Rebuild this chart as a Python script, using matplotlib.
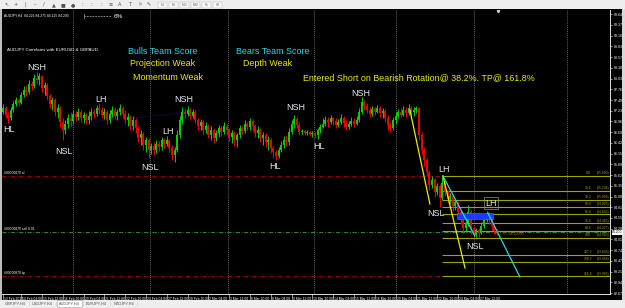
import matplotlib

matplotlib.use("Agg")
import matplotlib.pyplot as plt
import matplotlib.transforms as mtransforms
import numpy as np
from matplotlib.patches import Rectangle

plt.rcParams["font.family"] = ["Liberation Sans", "DejaVu Sans"]

W, H = 625, 308

# ---- AUDJPY H4 candles (index = bar number, prices in JPY) ----
first_open = 87.2
closes = [
    87.3, 87.125, 87.05, 87.25, 87.4,
    87.5, 87.425, 87.625, 87.75, 87.7, 87.9, 87.85, 88.05, 88.0,
    88.1, 87.8, 87.875, 87.6, 87.4, 87.5, 87.2, 87.3, 86.95, 86.75,
    86.9, 87.05, 86.975, 87.15, 87.075, 87.2, 87.05, 87.125, 87.0, 87.1, 87.2, 87.15, 87.3, 87.25,
    87.125, 87.2, 87.0, 87.15, 87.25, 87.1, 87.2, 87.3, 87.15, 87.0, 87.075, 86.85, 87.0, 86.8,
    86.55, 86.65, 86.375, 86.5, 86.25,
    86.35, 86.25, 86.4, 86.325, 86.5, 86.4, 86.5,
    86.3, 86.125, 86.25, 86.625, 87.0, 87.2, 87.15,
    87.25, 87.1, 87.2, 87.0, 86.85, 86.95, 86.75, 86.85, 86.625, 86.75,
    86.55, 86.675, 86.8, 86.7, 86.85, 86.75, 86.575, 86.675, 86.5, 86.625,
    86.8, 86.725, 86.9, 86.825, 86.975, 86.85, 86.675, 86.75, 86.55, 86.625,
    86.45, 86.5, 86.3,
    86.2, 86.1, 86.25, 86.375, 86.5, 86.45, 86.7, 86.9, 87.025, 86.875, 86.7, 86.725, 86.675,
    86.7, 86.65, 86.675, 86.625, 86.75, 86.825,
    86.9, 87.0, 86.95, 87.05, 86.975, 86.875, 86.95, 87.05, 86.925, 86.825, 86.9, 86.975, 86.9,
    87.0, 87.2, 87.45, 87.35,
    87.25, 87.15, 87.275, 87.2, 87.3, 87.175, 87.225, 87.05, 86.875, 86.8, 87.0, 87.1, 87.2,
    87.125, 87.25, 87.175, 87.3, 87.2,
    87.25, 87.3, 86.625, 86.25, 86.0, 85.7, 85.375, 85.5, 85.2, 85.35, 85.05, 85.425, 85.2,
    85.025, 85.1, 84.85, 84.95, 84.7, 84.5, 84.3, 84.4, 84.7, 84.3, 84.125, 84.25, 84.175,
    84.35, 84.5, 84.65, 84.5, 84.35, 84.225, 84.2,
]
highs = [
    87.4, 87.35, 87.2, 87.325, 87.475,
    87.575, 87.55, 87.7, 87.85, 87.875, 88.0, 87.975, 88.15, 88.2,
    88.175, 88.125, 87.95, 87.925, 87.65, 87.575, 87.55, 87.4, 87.35, 87.05,
    87.0, 87.15, 87.2, 87.25, 87.225, 87.3, 87.25, 87.2, 87.175, 87.225, 87.3, 87.275, 87.375, 87.425,
    87.325, 87.3, 87.25, 87.25, 87.35, 87.325, 87.275, 87.4, 87.35, 87.25, 87.175, 87.125, 87.1,
    87.05, 86.85, 86.75, 86.7, 86.575, 86.55,
    86.425, 86.45, 86.5, 86.475, 86.575, 86.55, 86.6,
    86.525, 86.375, 86.325, 86.75, 87.1, 87.325, 87.3,
    87.35, 87.3, 87.275, 87.25, 87.05, 87.025, 87.0, 86.95, 86.9, 86.85,
    86.8, 86.75, 86.875, 86.85, 86.95, 86.9, 86.8, 86.75, 86.725, 86.675,
    86.875, 86.85, 87.0, 86.95, 87.05, 87.025, 86.9, 86.85, 86.8, 86.7,
    86.675, 86.6, 86.55,
    86.35, 86.25, 86.325, 86.475, 86.6, 86.625, 86.8, 87.0, 87.125, 87.075, 86.95, 86.775, 86.75,
    86.75, 86.725, 86.725, 86.7, 86.8, 86.9,
    87.05, 87.1, 87.075, 87.125, 87.075, 87.05, 87.025, 87.15, 87.1, 87.0, 86.975, 87.075, 87.05,
    87.1, 87.3, 87.575, 87.5,
    87.425, 87.325, 87.35, 87.325, 87.375, 87.35, 87.3, 87.275, 87.125, 86.95, 87.075, 87.2, 87.275,
    87.3, 87.35, 87.325, 87.4, 87.35,
    87.325, 87.35, 87.325, 86.7, 86.325, 86.05, 85.75, 85.6, 85.55, 85.425, 85.4, 85.6, 85.45,
    85.25, 85.175, 85.125, 85.025, 84.975, 84.75, 84.55, 84.475, 84.875, 84.75, 84.35, 84.3, 84.3,
    84.45, 84.6, 84.725, 84.7, 84.55, 84.4, 84.275,
]
lows = [
    87.15, 87.05, 86.925, 87.0, 87.2,
    87.35, 87.35, 87.4, 87.575, 87.6, 87.65, 87.75, 87.8, 87.9,
    87.875, 87.7, 87.625, 87.5, 87.3, 87.25, 87.1, 87.05, 86.825, 86.5,
    86.65, 86.8, 86.85, 86.9, 86.975, 87.0, 86.95, 86.925, 86.9, 86.9, 87.0, 87.05, 87.1, 87.15,
    87.05, 87.025, 86.9, 86.925, 87.075, 87.025, 87.0, 87.125, 87.05, 86.9, 86.85, 86.75, 86.75,
    86.675, 86.45, 86.375, 86.25, 86.2, 86.05,
    86.15, 86.125, 86.175, 86.225, 86.25, 86.3, 86.35,
    86.2, 86.0, 85.95, 86.2, 86.55, 86.9, 87.05,
    87.1, 87.0, 87.05, 86.925, 86.75, 86.75, 86.65, 86.675, 86.55, 86.5,
    86.425, 86.475, 86.575, 86.6, 86.65, 86.625, 86.475, 86.425, 86.35, 86.325,
    86.55, 86.65, 86.675, 86.75, 86.75, 86.725, 86.575, 86.55, 86.45, 86.375,
    86.325, 86.25, 86.175,
    86.05, 86.0, 86.05, 86.2, 86.3, 86.35, 86.375, 86.65, 86.8, 86.8, 86.625, 86.65, 86.625,
    86.625, 86.6, 86.575, 86.55, 86.525, 86.675,
    86.8, 86.85, 86.825, 86.9, 86.875, 86.8, 86.825, 86.9, 86.825, 86.75, 86.775, 86.85, 86.825,
    86.875, 86.95, 87.15, 87.25,
    87.175, 87.075, 87.1, 87.125, 87.175, 87.075, 87.05, 86.95, 86.75, 86.7, 86.75, 86.9, 87.05,
    87.075, 87.1, 87.075, 87.125, 87.125,
    87.1, 87.175, 86.5, 86.125, 85.85, 85.6, 85.25, 85.3, 85.075, 85.125, 84.825, 85.0, 85.1,
    84.925, 84.9, 84.725, 84.75, 84.6, 84.4, 84.175, 84.2, 84.35, 84.15, 84.05, 84.075, 84.075,
    84.15, 84.3, 84.45, 84.4, 84.25, 84.15, 84.125,
]

# time axis labels (one every 8 bars)
time_tick_bars = [0, 7, 15, 23, 31, 39, 47, 55, 63, 71, 79, 87, 95, 103, 111, 119,
                  127, 135, 143, 151, 159, 167, 175, 183]
time_tick_labels = ["13 Feb 2017", "14 Feb 04:00", "15 Feb 12:00", "16 Feb 20:00",
                    "20 Feb 04:00", "21 Feb 12:00", "22 Feb 20:00", "24 Feb 04:00",
                    "27 Feb 12:00", "28 Feb 20:00", "2 Mar 04:00", "3 Mar 12:00",
                    "6 Mar 20:00", "8 Mar 04:00", "9 Mar 12:00", "10 Mar 20:00",
                    "14 Mar 04:00", "15 Mar 12:00", "16 Mar 20:00", "20 Mar 04:00",
                    "21 Mar 12:00", "22 Mar 20:00", "24 Mar 04:00", "27 Mar 12:00"]
separator_bars = [27, 56.5, 86.5, 119.5, 151, 181, 217]

# swing labels: (text, bar, price)
swing_labels = [
    ("HL", 2.3, 86.75), ("NSH", 13.1, 88.325), ("NSL", 23.5, 86.225),
    ("LH", 37.7, 87.525), ("NSL", 56.5, 85.825), ("LH", 63.5, 86.725),
    ("NSH", 69.6, 87.5), ("HL", 104.6, 85.85), ("NSH", 112.7, 87.3),
    ("HL", 121.5, 86.35), ("NSH", 137.7, 87.675), ("LH", 169.6, 85.75),
    ("NSL", 166.5, 84.65), ("NSL", 181.5, 83.85),
]
last_lh = ("LH", 187.7, 84.925)

# fibonacci retracement drawn from the LH to the NSL
fib_levels = [0.0, 23.6, 38.2, 50.0, 61.8, 76.4, 88.6, 100.0, 127.2, 138.2, 161.8]
fib_start_bar = 169
fib_0 = 85.6
fib_100 = 84.05

# trend lines: (bars, prices)
yellow_lines = [([156.5, 164.2], [87.25, 84.9]), ([169.2, 177.7], [85.6, 83.3])]
cyan_lines = [([169.2, 181.5], [85.6, 84.1]), ([186.5, 198.8], [84.675, 83.075])]
navy_line = ([22.7, 26.9, 37.3, 50.0, 69.2, 76.9],
             [86.7, 86.925, 86.975, 87.05, 87.175, 87.25])
zone_bars = (174.6, 188.5)
zone_prices = (84.525, 84.675)

opens = [first_open] + closes[:-1]
n = len(closes)
assert len(highs) == n and len(lows) == n

GREEN = "#00d200"
RED = "#ee0000"
LABEL = "#e2e9f1"
YELLOW = "#ecec00"
CYAN = "#22dcea"
OLIVE = "#a3a300"


def fx(px):
    return px / W


def fy(py):
    return 1 - py / H


fig = plt.figure(figsize=(W / 100, H / 100), dpi=100, facecolor="black")

# window chrome: toolbar on top, tabs at the bottom
fig.patches.append(Rectangle((0, fy(9)), 1, 9 / H, transform=fig.transFigure,
                             facecolor="#eeeeee", edgecolor="none", zorder=0))
fig.patches.append(Rectangle((0, 0), 1, 8 / H, transform=fig.transFigure,
                             facecolor="#eeeeee", edgecolor="none", zorder=0))
fig.patches.append(Rectangle((0, fy(300)), fx(2), 291 / H, transform=fig.transFigure,
                             facecolor="#bdbdbd", edgecolor="none", zorder=0))
fig.patches.append(Rectangle((fx(622), fy(300)), fx(3), 291 / H, transform=fig.transFigure,
                             facecolor="#d8d8d8", edgecolor="none", zorder=0))

tool_glyphs = ["↖", "+", "|", "–", "/", "▲", "■", "●", ":", ":", ":", "≡",
               "A", "T", "⚐", "✎"]
for i, g in enumerate(tool_glyphs):
    fig.text(fx(6 + i * 9.5), fy(4.5), g, fontsize=3.6, color="#505050",
             ha="center", va="center", family="DejaVu Sans")
for i, lab in enumerate(["M1", "M5", "M15", "M30", "H1", "H4"]):
    x0 = 158 + i * 11
    fig.patches.append(Rectangle((fx(x0), fy(8)), fx(9), 6 / H,
                                 transform=fig.transFigure, facecolor="#f8f8f8",
                                 edgecolor="#b0b0b0", linewidth=0.3))
    fig.text(fx(x0 + 4.5), fy(5), lab, fontsize=2.2, color="#606060",
             ha="center", va="center")

tabs = ["GBPJPY,H4", "USDJPY,H4", "AUDJPY,H4", "EURJPY,H4", "NZDJPY,H4"]
for i, t in enumerate(tabs):
    x0 = 3 + i * 27
    if t == "AUDJPY,H4":
        fig.patches.append(Rectangle((fx(x0), fy(307)), fx(25), 7 / H,
                                     transform=fig.transFigure, facecolor="white",
                                     edgecolor="#a0a0a0", linewidth=0.4))
    fig.text(fx(x0 + 12.5), fy(304), t, fontsize=2.8, color="#505050",
             ha="center", va="center")
    fig.text(fx(x0 + 26), fy(304), "|", fontsize=3, color="#b0b0b0",
             ha="center", va="center")

ax = fig.add_axes([fx(2), fy(294), fx(610) - fx(2), (294 - 10) / H])
ax.set_facecolor("black")
ax.set_xlim(-0.385, 233.46)
ax.set_ylim(82.65, 89.75)

# candles
o = np.array(opens)
c = np.array(closes)
idx = np.arange(n)
colors = np.where(c >= o, GREEN, RED)
ax.vlines(idx, lows, highs, colors=colors, linewidth=0.7, zorder=3)
body = np.maximum(np.abs(c - o), 0.015)
ax.bar(idx, body, bottom=np.minimum(o, c), width=0.74, color=colors,
       linewidth=0, zorder=4)

for b in separator_bars:
    ax.axvline(b, color="#8a8a8a", linewidth=0.6, linestyle=(0, (1, 1.5)), zorder=1)

# order lines
tp_price = fib_0 - fib_levels[-1] / 100 * (fib_0 - fib_100)
order_lines = [(fib_0, "#b40000", "#00000870 sl"),
               (closes[-1], "#2fa02f", "#00000870 sell 0.01"),
               (tp_price, "#b40000", "#00000870 tp")]
for price, col, lab in order_lines:
    ax.axhline(price, color=col, linewidth=0.6, linestyle=(0, (5, 2, 1, 2)), zorder=2)
    ax.text(0.3, price + 0.03, lab, fontsize=2.4, color="white", va="bottom", ha="left")

# fibonacci levels
for lvl in fib_levels:
    price = fib_0 - lvl / 100 * (fib_0 - fib_100)
    ax.hlines(price, fib_start_bar, 233.46, color=OLIVE, linewidth=0.8, zorder=2)
    ax.text(225, price + 0.02, f"{lvl:.1f}".replace("100.0", "100"), fontsize=2.4,
            color=OLIVE, ha="center", va="bottom")
    ax.text(233.2, price + 0.02, f"({price:.3f})", fontsize=2.4, color=OLIVE,
            ha="right", va="bottom")

ax.add_patch(Rectangle((zone_bars[0], zone_prices[0]), zone_bars[1] - zone_bars[0],
                       zone_prices[1] - zone_prices[0], facecolor="#1a3cff",
                       edgecolor="#4f6bff", linewidth=0.4, zorder=5))

for xs, ys in yellow_lines:
    ax.plot(xs, ys, color=YELLOW, linewidth=0.9, zorder=6)
for xs, ys in cyan_lines:
    ax.plot(xs, ys, color=CYAN, linewidth=0.9, zorder=6)
ax.plot(*navy_line, color="#1c1c90", linewidth=0.6, linestyle=(0, (1, 1.2)), zorder=2)

for text, bx, py in swing_labels:
    ax.text(bx, py, text, fontsize=6.5, color=LABEL, ha="center", va="center", zorder=7)
ax.text(last_lh[1], last_lh[2], last_lh[0], fontsize=6.5, color=LABEL, ha="center",
        va="center", zorder=7,
        bbox=dict(boxstyle="square,pad=0.12", facecolor="none", edgecolor="#8c8c8c",
                  linewidth=0.5))

ax.plot(189.6, closes[-1], marker="x", markersize=2, color="#ff3030", mew=0.5, zorder=7)
ax.text(192.3, closes[-1] - 0.05, f"<-- {closes[-1]:.5f}", fontsize=2.6,
        color="#d05a20", ha="left", va="center")

# commentary
ax.text(1.5, 88.75, "AUDJPY Correlates with EURUSD & GBPAUD.", fontsize=3.2,
        color="white", ha="left", va="center")
ax.text(61.5, 88.725, "Bulls Team Score", fontsize=6.4, color=CYAN, ha="center", va="center")
ax.text(61.5, 88.425, "Projection Weak", fontsize=6.4, color=YELLOW, ha="center", va="center")
ax.text(63.5, 88.075, "Momentum Weak", fontsize=6.4, color=YELLOW, ha="center", va="center")
ax.text(103.8, 88.725, "Bears Team Score", fontsize=6.4, color=CYAN, ha="center", va="center")
ax.text(101.9, 88.425, "Depth Weak", fontsize=6.4, color=YELLOW, ha="center", va="center")
ax.text(115.4, 88.05, "Entered Short on Bearish Rotation@ 38.2%. TP@ 161.8%",
        fontsize=6.4, color=YELLOW, ha="left", va="center")

ax.text(0.3, 89.6, f"AUDJPY,H4  {opens[-1]:.3f} {highs[-1]:.3f} {lows[-1]:.3f} {closes[-1]:.3f}",
        fontsize=2.4, color="white", ha="left", va="center")
ax.plot([31.5, 41.5], [89.6, 89.6], color="#c0c0c0", linewidth=0.8,
        linestyle=(0, (0.6, 0.8)))
ax.text(31.3, 89.6, "|", fontsize=3.5, color="white", ha="right", va="center")
ax.text(42.5, 89.58, "6%", fontsize=4.6, color="white", ha="left", va="center")
ax.plot(190.5, 89.73, marker="v", markersize=1.8, color="#d0d0d0")

# axes styling
for side in ["left", "top"]:
    ax.spines[side].set_visible(False)
for side in ["right", "bottom"]:
    ax.spines[side].set_color("white")
    ax.spines[side].set_linewidth(0.6)
ax.yaxis.tick_right()
ax.set_yticks(np.arange(82.675, 89.70, 0.268))
ax.set_yticklabels([f"{v:.3f}" for v in np.arange(82.675, 89.70, 0.268)])
ax.tick_params(axis="y", labelsize=2.6, colors="white", length=1.5, width=0.4, pad=1)
ax.set_xticks([])

bt = mtransforms.blended_transform_factory(ax.transData, ax.transAxes)
for b, lab in zip(time_tick_bars, time_tick_labels):
    ax.plot([b, b], [0, -0.018], transform=bt, clip_on=False, color="white", linewidth=0.4)
    ax.text(b + 0.4, -0.01, lab, transform=bt, fontsize=2.4, color="white",
            ha="left", va="top")

fig.text(fx(617.5), fy(232), f"{closes[-1]:.3f}", fontsize=2.4, color="black",
         ha="center", va="center",
         bbox=dict(boxstyle="square,pad=0.15", facecolor="white", edgecolor="none"))

fig.savefig("out.png", dpi=100, facecolor="black")
